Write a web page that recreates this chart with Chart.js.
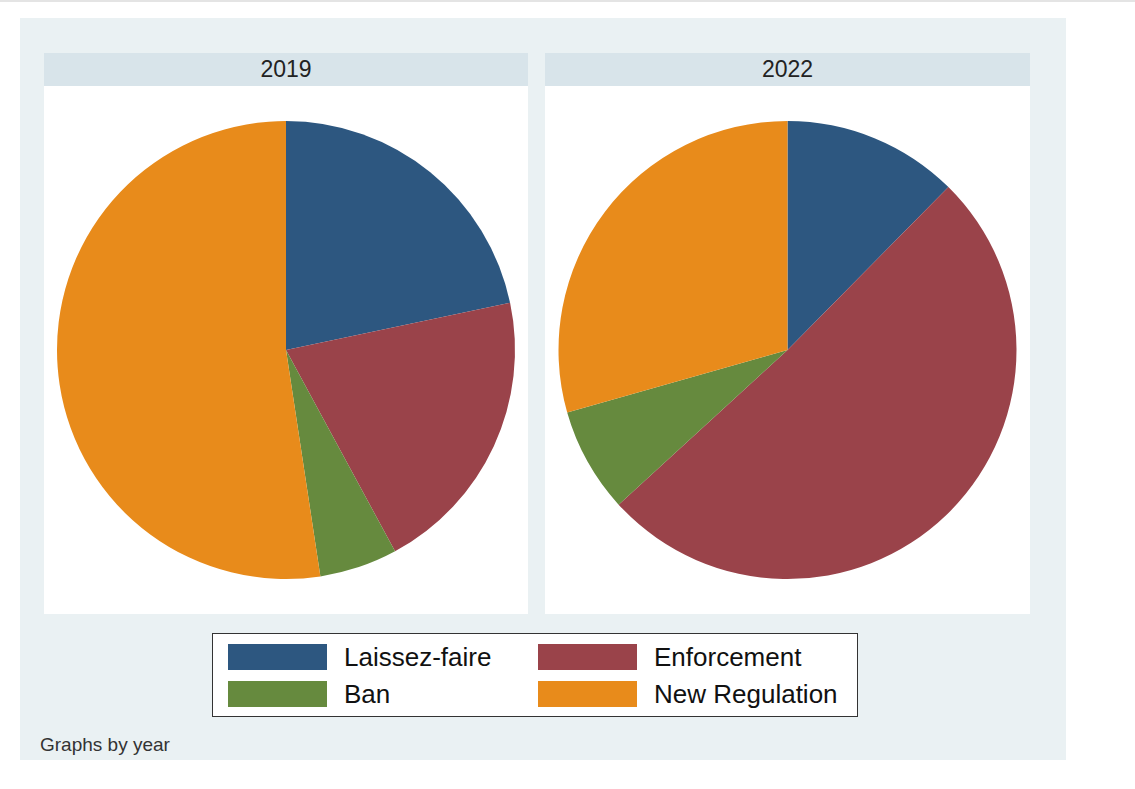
<!DOCTYPE html>
<html>
<head>
<meta charset="utf-8">
<script src="https://cdn.jsdelivr.net/npm/chart.js@4.4.1/dist/chart.umd.min.js"></script>
<style>
  body { margin: 0; width: 1135px; height: 789px; background: #fff; position: relative; font-family: "Liberation Sans", Arial, sans-serif; overflow: hidden; }
  .topline { position: absolute; left: 0; top: 0; width: 1135px; height: 2px; background: #e4e4e4; }
  .outer { position: absolute; left: 20px; top: 18px; width: 1046px; height: 742px; background: #eaf1f3; }
  .head { position: absolute; top: 53px; height: 33px; background: #d8e4ea; color: #222; font-size: 23px; line-height: 33px; text-align: center; }
  .panel { position: absolute; top: 86px; width: 484px; height: 528px; background: #fff; }
  .legend { position: absolute; left: 212px; top: 633px; width: 644px; height: 82px; border: 1px solid #333; background: #fff; }
  .item { position: absolute; height: 26px; font-size: 26px; line-height: 26px; color: #111; }
  .sw { position: absolute; left: 0; top: 0; width: 99px; height: 26px; }
  .item span { position: absolute; left: 116px; top: 0; white-space: nowrap; }
  .note { position: absolute; left: 40px; top: 734px; font-size: 19px; color: #333; }
</style>
</head>
<body>
<div class="topline"></div>
<div class="outer"></div>
<div class="head" style="left:44px;width:484px">2019</div>
<div class="head" style="left:545px;width:485px">2022</div>
<div class="panel" style="left:44px"><canvas id="pie2019" width="484" height="528"></canvas></div>
<div class="panel" style="left:545px;width:485px"><canvas id="pie2022" width="485" height="528"></canvas></div>
<div class="legend" id="legend"></div>
<div class="note">Graphs by year</div>
<script>
const categories = ["Laissez-faire", "Enforcement", "Ban", "New Regulation"];
const colors = ["#2d5780", "#9a434a", "#668a3e", "#e88b1b"];
const years = ["2019", "2022"];
const values2019 = [21.7, 20.4, 5.5, 52.4];
const values2022 = [12.4, 50.8, 7.4, 29.4];

function makePie(id, values) {
    const ctx = document.getElementById(id).getContext('2d');
    new Chart(ctx, {
        type: 'pie',
        data: {
            labels: categories,
            datasets: [{
                data: values,
                backgroundColor: colors,
                borderWidth: 0
            }]
        },
        options: {
            responsive: false,
            animation: false,
            layout: { padding: { top: 35, bottom: 35 } },
            plugins: {
                legend: { display: false },
                tooltip: { enabled: false }
            }
        }
    });
}

makePie('pie2019', values2019);
makePie('pie2022', values2022);

// legend: two columns, filled row by row
const legend = document.getElementById('legend');
const colLeft = [15, 325];
const rowTop = [10, 47];
categories.forEach((name, i) => {
    const item = document.createElement('div');
    item.className = 'item';
    item.style.left = colLeft[i % 2] + 'px';
    item.style.top = rowTop[Math.floor(i / 2)] + 'px';
    item.innerHTML = '<div class="sw" style="background:' + colors[i] + '"></div><span>' + name + '</span>';
    legend.appendChild(item);
});
</script>
</body>
</html>
